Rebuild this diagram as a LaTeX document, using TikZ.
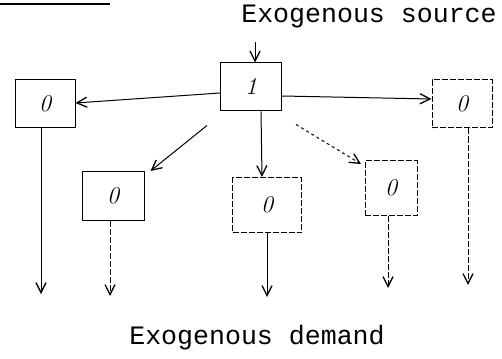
\documentclass[tikz,border=0pt]{standalone}
\usepackage{fontspec}
\newfontfamily\labfont{Liberation Mono}
\usetikzlibrary{arrows.meta}
\begin{document}
\begin{tikzpicture}[x=1pt,y=-1pt,
  box/.style={draw,line width=1pt,minimum width=#1,inner sep=0pt,font=\fontsize{24}{26}\selectfont\itshape},
  dsh/.style={dash pattern=on 6pt off 2pt},
  flow/.style={draw,line width=1pt,-{Straight Barb[length=10pt,width=10pt,line width=1.3pt]}},
  lab/.style={font=\labfont\fontsize{26.6}{30}\selectfont,inner sep=0pt}]
\useasboundingbox (0,0) rectangle (502,358);
\draw[line width=1.2pt] (0,4) -- (110,4);
\node[lab] (src) at (369,16) {Exogenous source};
\node[lab] (dem) at (257,338) {Exogenous demand};
\node[box=61pt,minimum height=48pt] (c) at (251,87) {1};
\node[box=60pt,minimum height=48pt] (l) at (45,104) {0};
\node[box=60pt,minimum height=48pt,dsh] (r) at (462,104) {0};
\node[box=62pt,minimum height=49pt] (b2) at (113,196) {0};
\node[box=69pt,minimum height=55pt,dsh] (b3) at (267,205) {0};
\node[box=52pt,minimum height=55pt,dsh] (b4) at (391,188) {0};
\coordinate (s) at (255,42);
\coordinate (dl) at (41,294);
\coordinate (d2) at (110,296);
\coordinate (d3) at (267,297);
\coordinate (d4) at (388,288);
\coordinate (dr) at (468,285);
\draw[flow] (s) -- (s |- c.north);
\draw[flow] ([yshift=-6pt]c.west) -- ([yshift=1pt]l.east);
\draw[flow] ([yshift=-9pt]c.east) -- ([yshift=5pt]r.west);
\draw[flow] ([xshift=-13pt,yshift=-14pt]c.south west) -- ([xshift=6pt]b2.north east);
\draw[flow] ([xshift=10pt]c.south) -- ([xshift=-5pt]b3.north);
\draw[flow,dashed] ([xshift=14pt,yshift=-13pt]c.south east) -- ([xshift=-30pt,yshift=-4pt]b4.north);
\draw[flow] (l.south -| dl) -- (dl);
\draw[flow,dsh] (b2.south -| d2) -- (d2);
\draw[flow] (b3.south) -- (d3);
\draw[flow,dsh] (b4.south -| d4) -- (d4);
\draw[flow,dsh] (r.south -| dr) -- (dr);
\end{tikzpicture}
\end{document}
